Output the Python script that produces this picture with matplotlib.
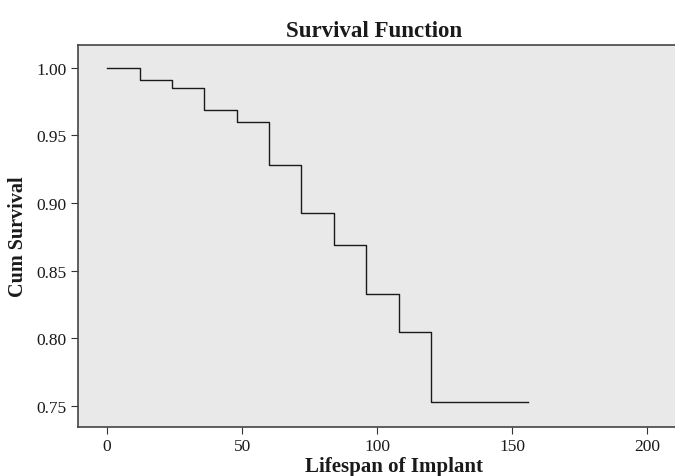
import matplotlib.pyplot as plt

# Kaplan-Meier survival steps
step_times = [0, 12, 24, 36, 48, 60, 72, 84, 96, 108, 120, 156]
survival = [1.000, 0.991, 0.985, 0.969, 0.960, 0.928, 0.893, 0.869, 0.833, 0.805, 0.753, 0.753]

x_ticks = [0, 50, 100, 150, 200]
y_ticks = [0.75, 0.80, 0.85, 0.90, 0.95, 1.00]

plt.rcParams['font.family'] = ['Liberation Serif', 'DejaVu Serif']

fig = plt.figure(figsize=(6.75, 4.77), dpi=100)
ax = fig.add_axes([78 / 675, 1 - 428 / 477, 1 - 78 / 675, (428 - 45.5) / 477])
ax.set_facecolor('#e9e9e9')

ax.step(step_times, survival, where='post', color='#1a1a1a', linewidth=1.0)

ax.set_xlim(-10.8, 210.4)
ax.set_ylim(0.7346, 1.0172)
ax.set_xticks(x_ticks)
ax.set_yticks(y_ticks)
ax.set_yticklabels([f"{v:.2f}" for v in y_ticks])
ax.tick_params(labelsize=12.5, length=5, width=0.8, color='#333333', labelcolor='#1a1a1a', pad=3)

for side in ['left', 'bottom', 'top']:
    ax.spines[side].set_color('#444444')
    ax.spines[side].set_linewidth(1.2)
ax.spines['right'].set_visible(False)

ax.set_title("Survival Function", fontsize=16.5, fontweight='bold', pad=6, color='#1a1a1a', x=(374 - 78) / (675 - 78))
ax.set_xlabel("Lifespan of Implant", fontsize=15, fontweight='bold', labelpad=0, color='#1a1a1a')
ax.xaxis.set_label_coords((394 - 78) / (675 - 78), -0.075)
ax.set_ylabel("Cum Survival", fontsize=14.5, fontweight='bold', labelpad=6, color='#1a1a1a')

fig.savefig("out.png", dpi=100)
